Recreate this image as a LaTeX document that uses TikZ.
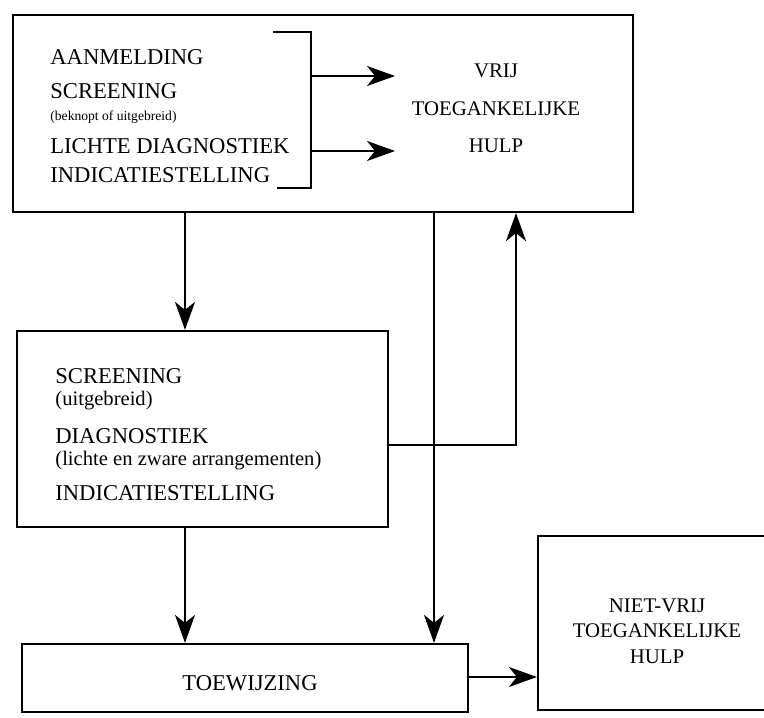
\documentclass[tikz,border=0pt]{standalone}
\usepackage{fontspec}
\setmainfont{Liberation Serif}
\usetikzlibrary{arrows.meta}
\tikzset{
  box/.style={draw, line width=1.1pt, rectangle, inner sep=0pt},
  arr/.style={line width=1pt, -{Stealth[length=14pt,width=10pt,inset=4pt]}},
  ln/.style={line width=1pt},
  caps/.style={inner sep=0pt, font=\fontsize{11.3}{13}\selectfont},
  capsc/.style={inner sep=0pt, font=\fontsize{10.4}{12}\selectfont},
  par/.style={inner sep=0pt, font=\fontsize{10.3}{12}\selectfont},
  smallpar/.style={inner sep=0pt, font=\fontsize{6.8}{8}\selectfont},
}
\begin{document}
\begin{tikzpicture}[x=0.5pt,y=-0.5pt]
\useasboundingbox (0,0) rectangle (764,717);
\clip (0,0) rectangle (764,717);
% boxes
\node[box, minimum width=310pt, minimum height=98.5pt] (top) at (323,113.5) {};
\node[box, minimum width=185.5pt, minimum height=98pt] (mid) at (202.5,429) {};
\node[box, minimum width=223pt, minimum height=34pt] (toew) at (245,678) {};
\node[box, minimum width=119pt, minimum height=87pt] (niet) at (657,623) {};
% top box texts
\node[caps, anchor=base west] (t1) at (50,65) {AANMELDING};
\node[caps, anchor=base west] (t2) at (50,98) {SCREENING};
\node[smallpar, anchor=base west] (t3) at (50,120) {(beknopt of uitgebreid)};
\node[caps, anchor=base west] (t4) at (50,153) {LICHTE DIAGNOSTIEK};
\node[caps, anchor=base west] (t5) at (50,182) {INDICATIESTELLING};
\node[capsc, anchor=base] (v1) at (496,78) {VRIJ};
\node[capsc, anchor=base] (v2) at (496,115) {TOEGANKELIJKE};
\node[capsc, anchor=base] (v3) at (496,152) {HULP};
% mid box texts
\node[caps, anchor=base west] (m1) at (55,383) {SCREENING};
\node[par, anchor=base west] (m2) at (55,405) {(uitgebreid)};
\node[caps, anchor=base west] (m3) at (55,443) {DIAGNOSTIEK};
\node[par, anchor=base west] (m4) at (55,465) {(lichte en zware arrangementen)};
\node[caps, anchor=base west] (m5) at (55,500) {INDICATIESTELLING};
% toewijzing
\node[caps, anchor=base] (tw) at (250,690) {TOEWIJZING};
% niet-vrij
\node[capsc, anchor=base] (n1) at (657,612) {NIET-VRIJ};
\node[capsc, anchor=base] (n2) at (657,637) {TOEGANKELIJKE};
\node[capsc, anchor=base] (n3) at (657,663) {HULP};
% bracket
\coordinate (b1) at (273,32);
\coordinate (b2) at (311,32);
\coordinate (b3) at (311,188);
\coordinate (b4) at (277,188);
\draw[ln] (b1) -- (b2) -- (b3) -- (b4);
\coordinate (a1s) at (311,76);
\coordinate (a1e) at (395,76);
\coordinate (a2s) at (311,151);
\coordinate (a2e) at (395,151);
\draw[arr] (a1s) -- (a1e);
\draw[arr] (a2s) -- (a2e);
% helper x positions
\coordinate (xa) at (185,0);
\coordinate (xb) at (434,0);
\coordinate (xc) at (516,0);
\coordinate (ym) at (0,445);
\coordinate (yt) at (0,677);
% connectors
\draw[arr] (xa |- top.south) -- (xa |- mid.north);
\draw[arr] (xa |- mid.south) -- (xa |- toew.north);
\draw[arr] (xb |- top.south) -- (xb |- toew.north);
\draw[arr] (mid.east |- ym) -| (xc |- top.south);
\draw[arr] (toew.east |- yt) -- (niet.west |- yt);
\end{tikzpicture}
\end{document}
